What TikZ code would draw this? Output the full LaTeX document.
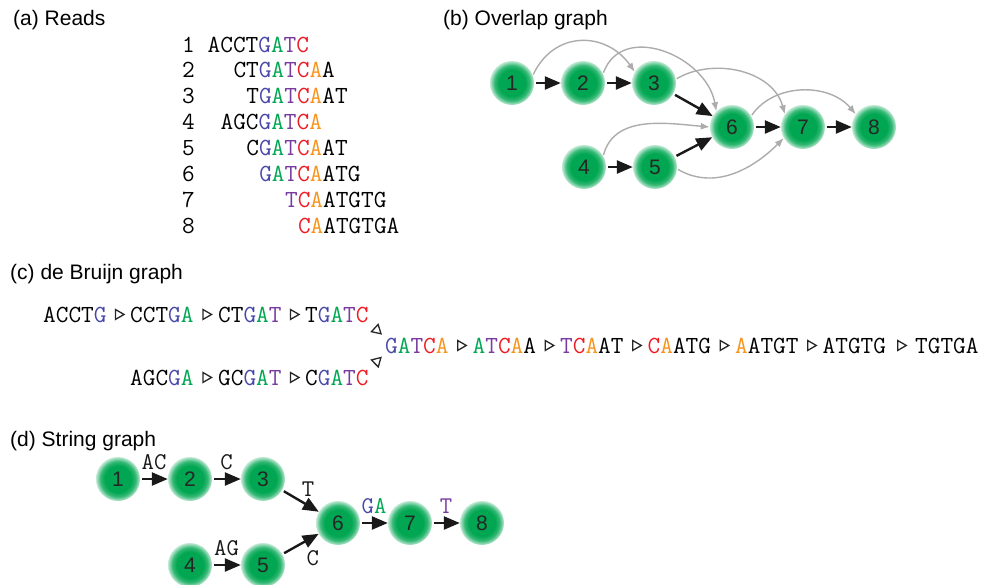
\documentclass[tikz,border=0pt]{standalone}
\usepackage{fontspec}
\setmainfont{Liberation Sans}
\usepackage{xcolor}
\usetikzlibrary{arrows.meta,shapes.geometric}
\definecolor{kB}{RGB}{72,72,168}
\definecolor{kG}{RGB}{0,166,81}
\definecolor{kP}{RGB}{120,60,160}
\definecolor{kR}{RGB}{237,28,36}
\definecolor{kO}{RGB}{247,148,29}
\definecolor{kN}{RGB}{0,166,81}
\pgfdeclareradialshading{glow}{\pgfpoint{0bp}{0bp}}{color(0bp)=(kN); color(15bp)=(kN); color(20bp)=(kN!80); color(25bp)=(kN!25); color(50bp)=(kN!25)}
\tikzset{
  lbl/.style={anchor=base west,inner sep=0pt,font=\fontsize{21}{25}\selectfont},
  seq/.style={anchor=base west,inner sep=0pt,font=\ttfamily\fontsize{24.6}{28}\selectfont},
  elab/.style={inner sep=1pt,font=\ttfamily\fontsize{24}{28}\selectfont},
  rd/.style={circle,minimum size=44pt,inner sep=0pt,shade,shading=glow,text=black!85,font=\fontsize{21}{25}\selectfont},
  ov/.style={line width=2.4pt,black!90,-{Triangle[length=16pt,width=13pt]},shorten <=2pt},
  ol/.style={line width=1.4pt,gray!65,-{Latex[length=9pt,width=7pt]},shorten <=1pt},
  tri/.style={draw,line width=1.3pt,black!85,isosceles triangle,isosceles triangle apex angle=60,inner sep=0pt,minimum width=8.5pt,minimum height=8.5pt,sloped}
}
\newcommand{\bG}{\textcolor{kB}{G}}
\newcommand{\gA}{\textcolor{kG}{A}}
\newcommand{\pT}{\textcolor{kP}{T}}
\newcommand{\rC}{\textcolor{kR}{C}}
\newcommand{\oA}{\textcolor{kO}{A}}

\begin{document}
\begin{tikzpicture}[x=1pt,y=1pt]
\useasboundingbox (0,0) rectangle (984,-584);
% panel titles
\node[lbl] (ta) at (13,-25) {(a) Reads};
\node[lbl] (tb) at (443,-25) {(b) Overlap graph};
\node[lbl] (tc) at (10,-279) {(c) de Bruijn graph};
\node[lbl] (td) at (10,-446) {(d) String graph};
% (a) reads
\foreach \i/\c/\s in {1/1/{ACCT\bG\gA\pT\rC},2/3/{CT\bG\gA\pT\rC\oA A},3/4/{T\bG\gA\pT\rC\oA AT},
  4/2/{AGC\bG\gA\pT\rC\oA},5/4/{C\bG\gA\pT\rC\oA AT},6/5/{\bG\gA\pT\rC\oA ATG},
  7/7/{\pT\rC\oA ATGTG},8/8/{\rC\oA ATGTGA}}{
  \node[seq] (n\i) at (182,{-52-25.9*(\i-1)}) {\i};
  \node[seq] (r\i) at ({207.5+12.9*(\c-1)},{-52-25.9*(\i-1)}) {\s};
}
% (b) overlap graph
\node[rd] (o1) at (512,-83) {1};
\node[rd] (o2) at (583,-83) {2};
\node[rd] (o3) at (654,-83) {3};
\node[rd] (o4) at (584,-167) {4};
\node[rd] (o5) at (655,-167) {5};
\node[rd] (o6) at (732,-127) {6};
\node[rd] (o7) at (803,-127) {7};
\node[rd] (o8) at (874,-127) {8};
\draw[ol] (o1.20) to[out=65,in=125,looseness=1.25] (o3.150);
\draw[ol] (o2.25) to[out=70,in=100,looseness=1.2] (o6.135);
\draw[ol] (o3.10) to[out=30,in=105] (o7.145);
\draw[ol] (o6.30) to[out=55,in=130] (o8.145);
\draw[ol] (o4.30) to[out=75,in=175] (o6.180);
\draw[ol] (o5.-5) to[out=-30,in=225] (o7.210);
\foreach \a/\b in {o1/o2,o2/o3,o3/o6,o4/o5,o5/o6,o6/o7,o7/o8}
  \draw[ov] (\a) -- (\b);
% (c) de Bruijn graph
\node[seq] (k1) at (43,-322) {ACCT\bG};
\node[seq] (k2) at (130,-322) {CCT\bG\gA};
\node[seq] (k3) at (218,-322) {CT\bG\gA\pT};
\node[seq] (k4) at (305,-322) {T\bG\gA\pT\rC};
\node[seq] (m1) at (130,-385) {AGC\bG\gA};
\node[seq] (m2) at (218,-385) {GC\bG\gA\pT};
\node[seq] (m3) at (305,-385) {C\bG\gA\pT\rC};
\foreach \j/\s in {1/{\bG\gA\pT\rC\oA},2/{\gA\pT\rC\oA A},3/{\pT\rC\oA AT},4/{\rC\oA ATG},
  5/{\oA ATGT},6/{ATGTG},7/{TGTGA}}
  \node[seq] (g\j) at ({385+87.5*(\j-1)+(\j==7)*5},-353) {\s};
\foreach \a/\b in {k1/k2,k2/k3,k3/k4,m1/m2,m2/m3,g1/g2,g2/g3,g3/g4,g4/g5,g5/g6,g6/g7}
  \path (\a.east) -- (\b.west) node[tri,midway]{};
\path (k4.south east) -- (g1.north west) node[tri,midway]{};
\path (m3.north east) -- (g1.south west) node[tri,midway]{};
% (d) string graph
\node[rd] (s1) at (118,-479) {1};
\node[rd] (s2) at (190,-479) {2};
\node[rd] (s3) at (263,-479) {3};
\node[rd] (s4) at (190,-565) {4};
\node[rd] (s5) at (263,-565) {5};
\node[rd] (s6) at (338,-523) {6};
\node[rd] (s7) at (410,-523) {7};
\node[rd] (s8) at (482,-523) {8};
\draw[ov] (s1) -- (s2) node[elab,midway,above=7pt] {AC};
\draw[ov] (s2) -- (s3) node[elab,midway,above=7pt] {C};
\draw[ov] (s3) -- (s6) node[elab,pos=0.45,above right=1pt] {T};
\draw[ov] (s4) -- (s5) node[elab,midway,above=7pt] {AG};
\draw[ov] (s5) -- (s6) node[elab,midway,below right=4pt] {C};
\draw[ov] (s6) -- (s7) node[elab,midway,above=7pt] {\bG\gA};
\draw[ov] (s7) -- (s8) node[elab,midway,above=7pt] {\pT};
\end{tikzpicture}
\end{document}
